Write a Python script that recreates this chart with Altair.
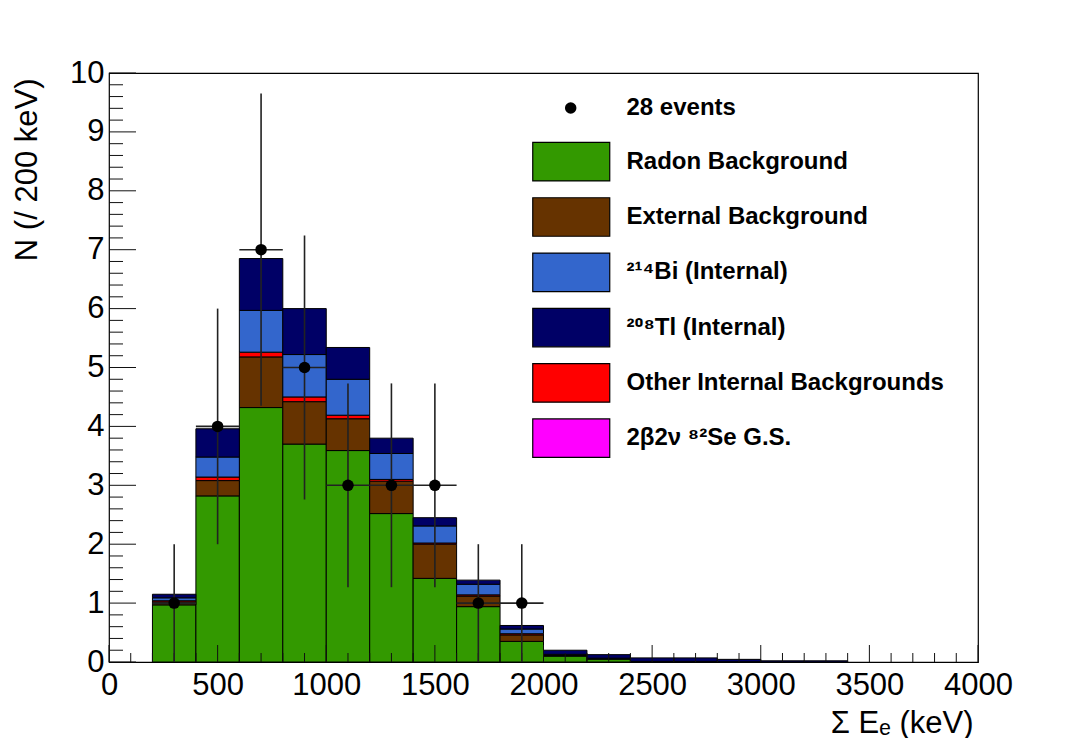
import altair as alt
import pandas as pd

# ---------------- data ----------------
bin_lo = [200, 400, 600, 800, 1000, 1200, 1400, 1600, 1800, 2000, 2200, 2400, 2600, 2800, 3000, 3200]
bin_hi = [400, 600, 800, 1000, 1200, 1400, 1600, 1800, 2000, 2200, 2400, 2600, 2800, 3000, 3200, 3400]

radon    = [0.97, 2.82, 4.32, 3.70, 3.59, 2.52, 1.42, 0.94, 0.35, 0.10, 0.05, 0.01, 0.01, 0.005, 0.0, 0.0]
external = [0.05, 0.26, 0.86, 0.72, 0.54, 0.55, 0.58, 0.18, 0.11, 0.01, 0.005, 0.0, 0.0, 0.0, 0.0, 0.0]
other    = [0.02, 0.06, 0.08, 0.08, 0.06, 0.03, 0.02, 0.02, 0.02, 0.0, 0.0, 0.0, 0.0, 0.0, 0.0, 0.0]
bi214    = [0.05, 0.34, 0.71, 0.72, 0.61, 0.44, 0.29, 0.18, 0.08, 0.02, 0.01, 0.0, 0.0, 0.0, 0.0, 0.0]
tl208    = [0.06, 0.48, 0.88, 0.78, 0.54, 0.26, 0.14, 0.07, 0.06, 0.07, 0.06, 0.06, 0.06, 0.04, 0.02, 0.02]

pt_center = [300, 500, 700, 900, 1100, 1300, 1500, 1700, 1900]
pt_xlo    = [200, 400, 600, 800, 1000, 1200, 1400, 1600, 1800]
pt_xhi    = [400, 600, 800, 1000, 1200, 1400, 1600, 1800, 2000]
pt_count  = [1, 4, 7, 5, 3, 3, 3, 1, 1]
pt_errlo  = [0, 2, 4.35, 2.76, 1.27, 1.27, 1.27, 0, 0]
pt_errhi  = [2, 6, 9.65, 7.24, 4.73, 4.73, 4.73, 2, 2]

legend_names = ["Radon Background", "External Background", "²¹⁴Bi (Internal)",
                "²⁰⁸Tl (Internal)", "Other Internal Backgrounds", "2β2ν ⁸²Se G.S."]
legend_colors = ["#339900", "#663300", "#3366cc", "#000066", "#ff0000", "#ff00ff"]
stack_order = ["Radon Background", "External Background", "Other Internal Backgrounds",
               "²¹⁴Bi (Internal)", "²⁰⁸Tl (Internal)", "2β2ν ⁸²Se G.S."]
points_label = "28 events"

x_major = [0, 500, 1000, 1500, 2000, 2500, 3000, 3500, 4000]
x_minor = [v for v in range(100, 4000, 100) if v % 500 != 0]
y_major = [0, 1, 2, 3, 4, 5, 6, 7, 8, 9, 10]
y_minor = [round(i * 0.2, 1) for i in range(1, 50) if i % 5 != 0]

# ---------------- tables ----------------
series = {"Radon Background": radon, "External Background": external,
          "Other Internal Backgrounds": other, "²¹⁴Bi (Internal)": bi214,
          "²⁰⁸Tl (Internal)": tl208}
rows = []
for name, vals in series.items():
    for lo, hi, v in zip(bin_lo, bin_hi, vals):
        if v > 0:
            rows.append({"lo": lo, "hi": hi, "comp": name, "value": v,
                         "ord": stack_order.index(name)})
hist = pd.DataFrame(rows)

pts = pd.DataFrame({"c": pt_center, "xl": pt_xlo, "xh": pt_xhi, "n": pt_count,
                    "el": pt_errlo, "eh": pt_errhi, "label": [points_label] * len(pt_count)})

W, H = 869, 589
FONT = "Liberation Sans"
LFONT = "Liberation Sans, Roboto, sans-serif"

xs = alt.Scale(domain=[0, 4000], nice=False, zero=False)
ys = alt.Scale(domain=[0, 10], nice=False, zero=False)

xaxis = alt.Axis(values=x_major, format="d", ticks=False, domain=False, grid=False,
                 labelFont=FONT, labelFontSize=31, labelColor="black", labelPadding=8,
                 labelFlush=False,
                 title="Σ Eₑ (keV)", titleFont=FONT, titleFontSize=31, titleFontWeight="normal",
                 titleColor="black", titleAlign="right", titleAnchor="end",
                 titleX=W - 5, titleY=70, titleBaseline="alphabetic")
yaxis = alt.Axis(values=y_major, format="d", ticks=False, domain=False, grid=False,
                 labelFont=FONT, labelFontSize=31, labelColor="black", labelPadding=5,
                 labelFlush=False,
                 title="N (/ 200 keV)", titleFont=FONT, titleFontSize=31, titleFontWeight="normal",
                 titleColor="black", titleAngle=270, titleAlign="right", titleAnchor="end",
                 titleX=-73, titleY=5, titleBaseline="alphabetic")

color_legend = alt.Legend(orient="none", legendX=442.25, legendY=68.7, title=None, padding=0,
                          symbolType="M-2,-1H2V1H-2Z", symbolSize=1482.25,
                          symbolStrokeColor="black", symbolStrokeWidth=1.2, symbolOpacity=1,
                          labelFont=LFONT, labelFontSize=24, labelFontWeight="bold",
                          labelColor="black", labelOffset=35.25, labelLimit=600,
                          rowPadding=11.3)

shape_legend = alt.Legend(orient="none", legendX=449.7, legendY=23, title=None, padding=0,
                          symbolFillColor="black", symbolStrokeColor="black", symbolSize=133,
                          labelFont=LFONT, labelFontSize=24, labelFontWeight="bold",
                          labelColor="black", labelOffset=43.8, labelLimit=600)

bars = alt.Chart(hist).transform_stack(
    stack="value", as_=["y0", "y1"], groupby=["lo"], sort=[alt.SortField("ord", order="ascending")]
).mark_rect(stroke="black", strokeWidth=1).encode(
    x=alt.X("lo:Q", scale=xs, axis=xaxis),
    x2="hi:Q",
    y=alt.Y("y0:Q", scale=ys, axis=yaxis),
    y2="y1:Q",
    color=alt.Color("comp:N", scale=alt.Scale(domain=legend_names, range=legend_colors),
                    legend=color_legend),
)

def xticks(vals, length):
    return alt.Chart(pd.DataFrame({"v": vals})).mark_rule(color="#111", strokeWidth=1).encode(
        x=alt.X("v:Q", scale=xs, axis=xaxis), y=alt.value(H), y2=alt.value(H - length))

def yticks(vals, length):
    return alt.Chart(pd.DataFrame({"v": vals})).mark_rule(color="#111", strokeWidth=1).encode(
        y=alt.Y("v:Q", scale=ys, axis=yaxis), x=alt.value(0), x2=alt.value(length))

verr = alt.Chart(pts).mark_rule(color="#222", strokeWidth=1.6).encode(
    x=alt.X("c:Q", scale=xs, axis=xaxis), y=alt.Y("el:Q", scale=ys, axis=yaxis), y2="eh:Q")
herr = alt.Chart(pts).mark_rule(color="#222", strokeWidth=1.6).encode(
    x=alt.X("xl:Q", scale=xs, axis=xaxis), x2="xh:Q", y=alt.Y("n:Q", scale=ys, axis=yaxis))
dots = alt.Chart(pts).mark_point(filled=True, color="black", opacity=1, size=133).encode(
    x=alt.X("c:Q", scale=xs, axis=xaxis), y=alt.Y("n:Q", scale=ys, axis=yaxis),
    shape=alt.Shape("label:N", scale=alt.Scale(domain=[points_label], range=["circle"]),
                    legend=shape_legend))

chart = alt.layer(
    bars, xticks(x_minor, 9), xticks(x_major, 17), yticks(y_minor, 14), yticks(y_major, 27),
    verr, herr, dots
).properties(
    width=W, height=H,
    autosize=alt.AutoSizeParams(type="none"),
    padding={"left": 101, "top": 65, "right": 102, "bottom": 76},
    background="white",
).configure_view(stroke="black", strokeWidth=1.2)

chart.save("out.html", embed_options={"renderer": "svg", "actions": False})
